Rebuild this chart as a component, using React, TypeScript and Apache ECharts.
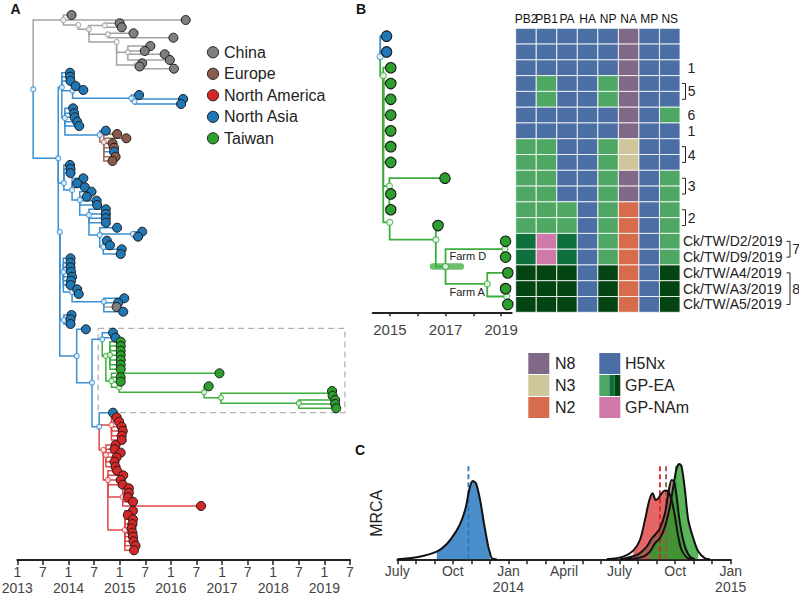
import React, { useEffect, useRef } from "react";
import * as echarts from "echarts";

const FONT = '"Liberation Sans", Arial, Helvetica, sans-serif';

// ---------- regions ----------
const regionNames = ["China", "Europe", "North America", "North Asia", "Taiwan"];
const regionFill = ["#7f7f7f", "#8c5a4b", "#d62728", "#1f77b4", "#2ca02c"];
const regionLine = ["#a3a3a3", "#a26c5c", "#e04848", "#3a8fd0", "#3cae3c"];

// ---------- Panel A tree: internal nodes [id, parent, date, tipOrder, region] ----------
const rootNodes = [["R", null, 2013.31, 89.3, 3]];
const chinaNodes = [
  ["G0", "R", 2013.9, 20, 0],
  ["G1", "G0", 2014.19, 25, 0],
  ["G2", "G1", 2014.4, 29.3, 0],
  ["G3", "G2", 2014.71, 25.5, 0],
  ["G4", "G2", 2014.77, 34.3, 0],
  ["G5", "G2", 2014.94, 42, 0],
  ["G6", "G5", 2015.16, 52.3, 0],
  ["G7", "G5", 2015.33, 65, 0],
];
const asiaUpperNodes = [
  ["B1", "R", 2013.8, 158.3, 3],
  ["BU", "B1", 2013.87, 87.3, 3],
  ["BU2", "BU", 2014.08, 90.7, 3],
  ["BL1", "BU2", 2015.23, 98.3, 3],
  ["BL2", "BL1", 2015.29, 101.5, 3],
  ["BU4", "BU", 2013.93, 118, 3],
  ["BE", "BU4", 2014.61, 135, 3],
  ["E1", "BE", 2014.69, 142, 1],
];
const asiaMidNodes = [
  ["BM1", "B1", 2013.91, 183, 3],
  ["BM2", "BM1", 2014.07, 190, 3],
  ["BM3", "BM2", 2014.22, 200, 3],
  ["BM4", "BM3", 2014.4, 215, 3],
  ["BM5", "BM4", 2014.61, 235, 3],
  ["BM6", "BM5", 2015.26, 234, 3],
  ["BM7", "BM5", 2014.68, 247, 3],
];
const asiaLowNodes = [
  ["B2", "B1", 2013.83, 232, 3],
  ["B4", "B2", 2013.9, 272, 3],
  ["B6", "B4", 2014.07, 292, 3],
  ["B7", "B6", 2014.69, 301.7, 3],
  ["B8", "B2", 2013.91, 320, 3],
  ["B9", "B2", 2014.16, 356, 3],
  ["B10", "B9", 2014.46, 382.7, 3],
  ["B11", "B10", 2014.66, 339.3, 3],
  ["RA", "B10", 2014.6, 426.7, 3],
];
const taiwanNodes = [
  ["TW0", "B11", 2014.73, 356, 4],
  ["TW1", "TW0", 2014.81, 355, 4],
  ["TW2", "TW0", 2014.84, 381, 4],
  ["TW3", "TW2", 2014.99, 387.3, 4],
  ["TW4", "TW3", 2016.65, 392.3, 4],
  ["TW5", "TW4", 2016.98, 397.7, 4],
  ["TW6", "TW5", 2019.12, 393.3, 4],
  ["TW7", "TW5", 2018.5, 403.3, 4],
];
const americaNodes = [
  ["RC", "RA", 2014.84, 425, 2],
  ["RB", "RA", 2014.68, 450, 2],
  ["RD", "RB", 2014.73, 455, 2],
  ["RE", "RB", 2014.77, 480, 2],
  ["RF", "RE", 2015.06, 497, 2],
  ["RG", "RE", 2015.1, 530, 2],
];

// ---------- Panel A tips [parent, date, tipOrder, region] ----------
const chinaTips = [
  ["G0", 2014.06, 15, 0], ["G0", 2016.29, 20, 0],
  ["G3", 2015.0, 23.3, 0], ["G3", 2015.04, 27.3, 0],
  ["G4", 2015.27, 33.3, 0], ["G4", 2016.05, 37.7, 0],
  ["G6", 2015.6, 46, 0], ["G6", 2015.49, 51, 0], ["G6", 2015.88, 54.3, 0], ["G6", 2015.98, 60, 0],
  ["G7", 2015.44, 63.3, 0], ["G7", 2015.39, 66.5, 0], ["G7", 2016.06, 68.7, 0],
];
const asiaUpperTips = [
  ["BU", 2014.03, 72.7, 3], ["BU", 2014.03, 76.7, 3], ["BU", 2014.04, 81, 3],
  ["BU2", 2014.14, 86, 3], ["BU2", 2014.29, 90, 3],
  ["BL1", 2015.38, 95, 3],
  ["BL2", 2016.24, 99, 3], ["BL2", 2016.2, 104, 3],
  ["BU4", 2014.09, 108.3, 3], ["BU4", 2014.11, 113.3, 3], ["BU4", 2014.12, 117.3, 3], ["BU4", 2014.17, 121.7, 3], ["BU4", 2014.21, 126, 3],
  ["BE", 2014.73, 130.7, 3],
  ["E1", 2014.95, 134, 1], ["E1", 2015.13, 138.3, 1], ["E1", 2014.86, 143.3, 1], ["E1", 2014.89, 147.7, 1],
  ["E1", 2014.89, 151.7, 3], ["E1", 2014.92, 156.7, 1], ["E1", 2014.86, 161, 1],
];
const asiaMidTips = [
  ["BM1", 2014.03, 165, 3], ["BM1", 2014.04, 169, 3], ["BM1", 2014.04, 173, 3],
  ["BM2", 2014.29, 178.3, 3], ["BM2", 2014.17, 183.3, 3], ["BM2", 2014.32, 187.3, 3],
  ["BM3", 2014.45, 191.7, 3], ["BM3", 2014.36, 196.7, 3], ["BM3", 2014.55, 200.7, 3], ["BM3", 2014.56, 205, 3],
  ["BM4", 2014.73, 209.3, 3], ["BM4", 2014.73, 214, 3], ["BM4", 2014.73, 218.3, 3], ["BM4", 2014.73, 222.7, 3],
  ["BM5", 2014.95, 227.7, 3],
  ["BM6", 2015.44, 231.7, 3], ["BM6", 2015.36, 236.7, 3],
  ["BM7", 2014.75, 240.7, 3], ["BM7", 2014.81, 245.3, 3], ["BM7", 2015.04, 249.3, 3], ["BM7", 2015.02, 254, 3],
];
const asiaLowTips = [
  ["B4", 2014.04, 258.3, 3], ["B4", 2014.04, 262.7, 3], ["B4", 2014.04, 267.3, 3], ["B4", 2014.05, 271.7, 3],
  ["B4", 2014.07, 276.7, 3], ["B4", 2014.05, 280.7, 3], ["B4", 2014.04, 285, 3],
  ["B6", 2014.17, 289.3, 3], ["B6", 2014.2, 294, 3],
  ["B7", 2015.09, 298.3, 3], ["B7", 2014.97, 302.7, 3], ["B7", 2014.94, 307, 0], ["B7", 2015.07, 311.7, 3],
  ["B8", 2014.06, 315, 3], ["B8", 2014.04, 319.3, 3], ["B8", 2014.04, 324, 3],
  ["B9", 2014.34, 329.3, 3],
  ["B11", 2014.87, 332.7, 3], ["B11", 2014.92, 337.7, 3],
  ["RA", 2014.87, 412.7, 3],
];
const taiwanTips = [
  ["TW1", 2015.02, 341.7, 4], ["TW1", 2015.02, 346, 4], ["TW1", 2015.02, 350.7, 4], ["TW1", 2015.02, 355.3, 4],
  ["TW1", 2015.02, 360, 4], ["TW1", 2015.02, 364.7, 4], ["TW1", 2015.02, 369.3, 4],
  ["TW2", 2016.95, 373.3, 4], ["TW2", 2015.02, 377.3, 4], ["TW2", 2015.02, 381.7, 4],
  ["TW4", 2016.74, 386.3, 4],
  ["TW6", 2019.15, 391, 4], ["TW6", 2019.16, 395.7, 4],
  ["TW7", 2019.21, 400, 4], ["TW7", 2019.21, 404, 4], ["TW7", 2019.23, 408.3, 4],
];
const americaTips = [
  ["RC", 2014.94, 417.3, 2], ["RC", 2014.99, 421.7, 2], ["RC", 2015.04, 426.7, 2], ["RC", 2015.06, 431, 2], ["RC", 2015.04, 435.7, 2], ["RC", 2015.04, 440, 2],
  ["RD", 2014.92, 445, 2], ["RD", 2014.9, 449.3, 2], ["RD", 2015.02, 452.7, 2], ["RD", 2014.94, 457.3, 2], ["RD", 2014.9, 461.7, 2], ["RD", 2014.92, 466.7, 2],
  ["RE", 2014.95, 470.7, 2], ["RE", 2015.07, 475.3, 2], ["RE", 2015.02, 480, 2], ["RE", 2015.06, 484.7, 2],
  ["RF", 2015.18, 488.3, 2], ["RF", 2015.18, 492.7, 2], ["RF", 2015.16, 497.3, 2], ["RF", 2015.26, 501.7, 2], ["RF", 2016.59, 506, 2],
  ["RG", 2015.26, 510.7, 2], ["RG", 2015.16, 515, 2], ["RG", 2015.26, 519.3, 2], ["RG", 2015.25, 524, 2], ["RG", 2015.23, 528.3, 2],
  ["RG", 2015.25, 532.7, 2], ["RG", 2015.26, 536.7, 2], ["RG", 2015.27, 541.3, 2], ["RG", 2015.31, 545.7, 2], ["RG", 2015.28, 550.3, 2],
];
// Taiwan highlight box [fromDate, toDate, topOrder, bottomOrder]
const taiwanBox = [2014.58, 2019.4, 328.3, 412.7];
const yearRangeA = [2013, 2019.5];

// ---------- Panel B tree (rows = heatmap rows) ----------
const treeBNodes = [
  ["P0", null, 2014.65, 2.3, 3],
  ["P1", "P0", 2014.76, 3.5, 4],
  ["P2", "P1", 2014.98, 10.5, 4],
  ["P3", "P1", 2014.99, 12.8, 4],
  ["P4", "P3", 2016.65, 13.9, 4],
  ["P5", "P4", 2017.0, 15.6, 4],
  ["P6", "P5", 2019.14, 14.5, 4],
  ["P7", "P5", 2018.5, 16.7, 4],
  ["P8", "P7", 2019.2, 17.5, 4],
];
const treeBTips = [
  ["P0", 2014.88, 1, 3], ["P0", 2014.88, 2, 3],
  ["P1", 2015.03, 3, 4], ["P1", 2015.03, 4, 4], ["P1", 2015.03, 5, 4], ["P1", 2015.03, 6, 4],
  ["P1", 2015.03, 7, 4], ["P1", 2015.03, 8, 4], ["P1", 2015.03, 9, 4],
  ["P2", 2016.98, 10, 4], ["P2", 2015.03, 11, 4], ["P2", 2015.03, 12, 4],
  ["P4", 2016.73, 13, 4],
  ["P6", 2019.16, 14, 4], ["P6", 2019.16, 15, 4],
  ["P7", 2019.24, 16, 4],
  ["P8", 2019.16, 17, 4], ["P8", 2019.24, 18, 4],
];
const farmHpd = [2016.55, 2017.55, 15.6];
const treeBRange = [2014.38, 2019.38];
const treeBTickYears = [2015, 2016, 2017, 2018, 2019];
const treeBLabelYears = [2015, 2017, 2019];

// ---------- Panel B heatmap ----------
const segments = ["PB2", "PB1", "PA", "HA", "NP", "NA", "MP", "NS"];
const lineageColors = {
  H: "#4b6ea5", G: "#4ea864", D: "#0e703c", K: "#044412", P: "#d078aa",
  N8: "#806987", N3: "#d0c69b", N2: "#d66c4c",
};
const heatRows = [
  ["H", "H", "H", "H", "H", "N8", "H", "H"],
  ["H", "H", "H", "H", "H", "N8", "H", "H"],
  ["H", "H", "H", "H", "H", "N8", "H", "H"],
  ["H", "G", "H", "H", "G", "N8", "H", "H"],
  ["H", "G", "H", "H", "G", "N8", "H", "H"],
  ["H", "H", "H", "H", "H", "N8", "H", "G"],
  ["H", "H", "H", "H", "H", "N8", "H", "H"],
  ["G", "G", "H", "H", "G", "N3", "H", "H"],
  ["G", "G", "H", "H", "G", "N3", "H", "H"],
  ["G", "G", "H", "H", "G", "N8", "H", "G"],
  ["G", "G", "H", "H", "G", "N8", "H", "G"],
  ["G", "G", "G", "H", "G", "N2", "H", "G"],
  ["G", "G", "G", "H", "G", "N2", "H", "G"],
  ["D", "P", "D", "H", "G", "N2", "H", "G"],
  ["D", "P", "D", "H", "G", "N2", "H", "G"],
  ["K", "K", "K", "H", "K", "N2", "H", "K"],
  ["K", "K", "K", "H", "K", "N2", "H", "K"],
  ["K", "K", "K", "H", "K", "N2", "H", "K"],
];
const singleRowLabels = [[3, "1"], [6, "6"], [7, "1"]];
const groupLabels = [[4, 5, "5"], [8, 9, "4"], [10, 11, "3"], [12, 13, "2"]];
const strainNames = [[14, "Ck/TW/D2/2019"], [15, "Ck/TW/D9/2019"], [16, "Ck/TW/A4/2019"], [17, "Ck/TW/A3/2019"], [18, "Ck/TW/A5/2019"]];
const strainGroups = [[14, 15, "7"], [16, 18, "8"]];

// ---------- Panel C densities (months since July 2013) ----------
const quarterLabels = ["July", "Oct", "Jan", "April", "July", "Oct", "Jan"];
const quarterYears = ["", "", "2014", "", "", "", "2015"];
const blueMonths = [0, 1.05, 2.13, 2.67, 3.2, 3.48, 3.71, 3.89, 4.07, 4.25, 4.47, 4.68, 4.91, 5.0, 5.1, 5.37];
const blueDensity = [0, 2, 7.7, 15.3, 28.7, 39.3, 52.7, 70, 78.3, 76, 59.3, 36, 12.7, 6.7, 1, 0];
const redMonths = [11.31, 12.2, 12.74, 13.1, 13.37, 13.61, 13.79, 13.95, 14.09, 14.27, 14.45, 14.63, 14.81, 14.99, 15.17, 15.35, 15.62, 15.9];
const redDensity = [0, 2.7, 8.7, 19.3, 39.3, 59.3, 66, 59.3, 61, 66, 68.7, 67.7, 59.3, 42.7, 22.7, 9.3, 2, 0];
const brownMonths = [12.02, 12.93, 13.47, 13.74, 13.91, 14.18, 14.45, 14.63, 14.81, 14.94, 15.08, 15.26, 15.53, 15.8, 16.07];
const brownDensity = [0, 4.3, 12.7, 21, 24.3, 31, 46, 66, 79.3, 77.7, 62.7, 36, 12.7, 2.7, 0];
const greenMonths = [12.38, 13.28, 13.64, 13.91, 14.18, 14.45, 14.72, 14.9, 15.08, 15.23, 15.35, 15.53, 15.71, 15.98, 16.25, 16.61, 16.88];
const greenDensity = [0, 2.7, 7.7, 16, 21, 32.7, 52.7, 72.7, 91, 95.3, 92.7, 69.3, 39.3, 21, 7.7, 1, 0];
const hpdBounds = [[2.13, 5.0], [12.74, 15.62], [12.93, 15.8], [13.64, 16.25]];
const meanMonths = [3.84, 14.18, 14.51, 15.05];
const meanLineTop = 96;

function buildTree(nodes: any[], tips: any[]) {
  const map: any = {};
  nodes.forEach((n) => (map[n[0]] = n));
  const edges: any[] = [];
  const nodePts: any[] = [];
  nodes.forEach((n) => {
    nodePts.push({ value: [n[2], n[3]], itemStyle: { color: "#fff", borderColor: regionLine[n[4]], borderWidth: 1.2 } });
    if (n[1]) {
      const p = map[n[1]];
      edges.push({ coords: [[p[2], p[3]], [p[2], n[3]], [n[2], n[3]]], lineStyle: { color: regionLine[n[4]] } });
    }
  });
  const tipPts: any[] = [];
  tips.forEach((t) => {
    const p = map[t[0]];
    edges.push({ coords: [[p[2], p[3]], [p[2], t[2]], [t[1], t[2]]], lineStyle: { color: regionLine[t[3]] } });
    tipPts.push({ value: [t[1], t[2]], itemStyle: { color: regionFill[t[3]] } });
  });
  return { edges, nodePts, tipPts };
}

function buildOption() {
  const treeA = buildTree(
    [...rootNodes, ...chinaNodes, ...asiaUpperNodes, ...asiaMidNodes, ...asiaLowNodes, ...taiwanNodes, ...americaNodes],
    [...chinaTips, ...asiaUpperTips, ...asiaMidTips, ...asiaLowTips, ...taiwanTips, ...americaTips]
  );
  const treeB = buildTree(treeBNodes, treeBTips);

  const paletteKeys = Object.keys(lineageColors);
  const heatData: any[] = [];
  heatRows.forEach((row, r) => row.forEach((code, c) => heatData.push([c, r, paletteKeys.indexOf(code)])));

  const series: any[] = [];
  // Panel A
  series.push({
    type: "lines", coordinateSystem: "cartesian2d", xAxisIndex: 0, yAxisIndex: 0, polyline: true, silent: true,
    lineStyle: { width: 1.5, opacity: 1 }, data: treeA.edges, z: 2,
  });
  const [bx0, bx1, by0, by1] = taiwanBox;
  series.push({
    type: "lines", coordinateSystem: "cartesian2d", xAxisIndex: 0, yAxisIndex: 0, polyline: true, silent: true,
    lineStyle: { width: 1.3, color: "#b3b3b3", type: [6, 4], opacity: 1 },
    data: [{ coords: [[bx0, by0], [bx1, by0], [bx1, by1], [bx0, by1], [bx0, by0]] }], z: 1,
  });
  series.push({ type: "scatter", xAxisIndex: 0, yAxisIndex: 0, symbolSize: 5, data: treeA.nodePts, z: 3, silent: true });
  series.push({
    type: "scatter", xAxisIndex: 0, yAxisIndex: 0, symbolSize: 9, data: treeA.tipPts, z: 4, silent: true,
    itemStyle: { borderColor: "#1a1a1a", borderWidth: 1, opacity: 1 },
  });
  // Panel B tree
  series.push({
    type: "lines", coordinateSystem: "cartesian2d", xAxisIndex: 2, yAxisIndex: 1, polyline: false, silent: true,
    lineStyle: { width: 6.5, color: "#5cb85c", opacity: 0.9, cap: "round" },
    data: [{ coords: [[farmHpd[0], farmHpd[2]], [farmHpd[1], farmHpd[2]]] }], z: 1,
  });
  series.push({
    type: "lines", coordinateSystem: "cartesian2d", xAxisIndex: 2, yAxisIndex: 1, polyline: true, silent: true,
    lineStyle: { width: 1.8, opacity: 1 }, data: treeB.edges, z: 2,
  });
  series.push({ type: "scatter", xAxisIndex: 2, yAxisIndex: 1, symbolSize: 6, data: treeB.nodePts, z: 3, silent: true });
  series.push({
    type: "scatter", xAxisIndex: 2, yAxisIndex: 1, symbolSize: 10.5, data: treeB.tipPts, z: 4, silent: true,
    itemStyle: { borderColor: "#1a1a1a", borderWidth: 1.1, opacity: 1 },
  });
  // Heatmap
  series.push({
    type: "custom", xAxisIndex: 3, yAxisIndex: 2, data: heatData, encode: { x: 0, y: 1 }, silent: true,
    renderItem: (params: any, api: any) => {
      const c = api.coord([api.value(0), api.value(1)]);
      const s = api.size([1, 1]);
      const key = paletteKeys[api.value(2)];
      return {
        type: "rect",
        shape: { x: c[0] - s[0] / 2, y: c[1] - s[1] / 2, width: s[0], height: s[1] },
        style: { fill: (lineageColors as any)[key], stroke: "#ffffff", lineWidth: 0.8 },
      };
    },
  });
  // Panel C
  const curves = [
    { m: blueMonths, d: blueDensity, fill: "#4a8fcc", op: 1, dash: "#2a78be" },
    { m: redMonths, d: redDensity, fill: "#dd3b3b", op: 0.78, dash: "#e01f1f" },
    { m: brownMonths, d: brownDensity, fill: "#8c5a4b", op: 0.72, dash: "#8c5a4b" },
    { m: greenMonths, d: greenDensity, fill: "#2ca02c", op: 0.78, dash: "#2ca02c" },
  ];
  curves.forEach((cv, i) => {
    const pts = cv.m.map((x, k) => [x, cv.d[k]]);
    const [lo, hi] = hpdBounds[i];
    series.push({
      type: "line", xAxisIndex: 4, yAxisIndex: 3, smooth: 0.3, symbol: "none", silent: true,
      data: pts.filter((p) => p[0] >= lo && p[0] <= hi),
      lineStyle: { width: 0 }, areaStyle: { color: cv.fill, opacity: cv.op, origin: "start" }, z: 1 + i * 0.01,
    });
  });
  curves.forEach((cv, i) => {
    series.push({
      type: "line", xAxisIndex: 4, yAxisIndex: 3, symbol: "none", silent: true,
      data: [[meanMonths[i], 0], [meanMonths[i], meanLineTop]],
      lineStyle: { color: cv.dash, width: 1.8, type: [5, 3] }, z: 2,
    });
  });
  curves.forEach((cv) => {
    series.push({
      type: "line", xAxisIndex: 4, yAxisIndex: 3, smooth: 0.3, symbol: "none", silent: true,
      data: cv.m.map((x, k) => [x, cv.d[k]]),
      lineStyle: { color: "#111", width: 2 }, z: 3,
    });
  });

  const axisLabelBase = { fontFamily: FONT, fontSize: 14, color: "#444", lineHeight: 14 };
  const axisLineBase = { show: true, onZero: false, lineStyle: { color: "#222", width: 2 } };
  const tickBase = { show: true, length: 5, lineStyle: { color: "#222", width: 1.5 } };
  const hiddenLine = { show: false };

  // graphics
  const rowY = (r: number) => 28.3 + (r - 0.5) * 15.78;
  const g: any[] = [];
  const txt = (x: number, y: number, text: string, size: number, extra: any = {}) => ({
    type: "text", x, y, silent: true,
    style: { text, fontSize: size, fontFamily: FONT, fill: "#222", align: "left", verticalAlign: "middle",
      textAlign: "left", textVerticalAlign: "middle", ...extra },
  });
  g.push(txt(15.5, 8.5, "A", 14, { fontWeight: "bold", align: "center", textAlign: "center", fill: "#111" }));
  g.push(txt(361, 8.5, "B", 14, { fontWeight: "bold", align: "center", textAlign: "center", fill: "#111" }));
  g.push(txt(360, 449.5, "C", 14, { fontWeight: "bold", align: "center", textAlign: "center", fill: "#111" }));
  regionNames.forEach((name, i) => {
    const cy = 52.3 + 21.5 * i;
    g.push({ type: "circle", silent: true, shape: { cx: 213, cy, r: 5.6 }, style: { fill: regionFill[i], stroke: "#222", lineWidth: 1 } });
    g.push(txt(224, cy, name, 16));
  });
  singleRowLabels.forEach(([r, t]: any) => g.push(txt(687.5, rowY(r), t, 14)));
  const bracket = (x: number, y1: number, y2: number) => ({
    type: "polyline", silent: true,
    shape: { points: [[x - 3.5, y1], [x, y1], [x, y2], [x - 3.5, y2]] },
    style: { stroke: "#222", lineWidth: 1, fill: null },
  });
  groupLabels.forEach(([a, b, t]: any) => {
    g.push(bracket(685.5, rowY(a), rowY(b)));
    g.push(txt(687.8, (rowY(a) + rowY(b)) / 2, t, 14));
  });
  strainNames.forEach(([r, t]: any) => g.push(txt(683, rowY(r), t, 14)));
  strainGroups.forEach(([a, b, t]: any) => {
    g.push(bracket(790, rowY(a), rowY(b)));
    g.push(txt(792.3, (rowY(a) + rowY(b)) / 2, t, 14));
  });
  g.push(txt(449.5, 255.5, "Farm D", 11));
  g.push(txt(449.5, 292, "Farm A", 11));
  // legend for segments
  const legendRows = [
    [["N8"], "N8", ["H"], "H5Nx"],
    [["N3"], "N3", ["G", "D", "K"], "GP-EA"],
    [["N2"], "N2", ["P"], "GP-NAm"],
  ];
  legendRows.forEach((row: any, i) => {
    const y = 353 + 22 * i;
    g.push({ type: "rect", silent: true, shape: { x: 528.3, y, width: 21, height: 21 }, style: { fill: (lineageColors as any)[row[0][0]] } });
    g.push(txt(555, y + 10.5, row[1], 16));
    const keys = row[2];
    if (keys.length === 1) {
      g.push({ type: "rect", silent: true, shape: { x: 599.3, y, width: 21, height: 21 }, style: { fill: (lineageColors as any)[keys[0]] } });
    } else {
      const widths = [10, 5.5, 5.5];
      let x = 599.3;
      keys.forEach((k: string, j: number) => {
        g.push({ type: "rect", silent: true, shape: { x, y, width: widths[j], height: 21 }, style: { fill: (lineageColors as any)[k] } });
        x += widths[j];
      });
    }
    g.push(txt(625, y + 10.5, row[3], 16));
  });
  g.push({
    type: "text", x: 376.7, y: 513.3, rotation: Math.PI / 2, silent: true,
    style: { text: "MRCA", fontSize: 16, fontFamily: FONT, fill: "#222", align: "center", verticalAlign: "middle", textAlign: "center", textVerticalAlign: "middle" },
  });

  return {
    animation: false,
    backgroundColor: "#ffffff",
    textStyle: { fontFamily: FONT },
    grid: [
      { left: 17.3, top: 0, width: 332.7, height: 560, containLabel: false, outerBoundsMode: "none" },
      { left: 372.7, top: 28.3, width: 139, height: 284, containLabel: false, outerBoundsMode: "none" },
      { left: 515.7, top: 28.3, width: 164.3, height: 284, containLabel: false, outerBoundsMode: "none" },
      { left: 397.3, top: 459.3, width: 333.4, height: 100, containLabel: false, outerBoundsMode: "none" },
    ],
    xAxis: [
      // 0: panel A month row
      {
        gridIndex: 0, type: "value", min: yearRangeA[0], max: yearRangeA[1], interval: 0.5,
        axisLine: axisLineBase, axisTick: tickBase, splitLine: { show: false },
        axisLabel: { ...axisLabelBase, margin: 5, formatter: (v: number) => (Number.isInteger(v) ? "1" : "7") },
      },
      // 1: panel A year row
      {
        gridIndex: 0, type: "value", position: "bottom", offset: 0, min: yearRangeA[0], max: yearRangeA[1], interval: 0.5,
        axisLine: hiddenLine, axisTick: hiddenLine, splitLine: { show: false },
        axisLabel: { ...axisLabelBase, margin: 21, formatter: (v: number) => (Number.isInteger(v) ? String(v) : "") },
      },
      // 2: panel B tree
      {
        gridIndex: 1, type: "value", min: treeBRange[0], max: treeBRange[1],
        axisLine: axisLineBase, axisTick: { ...tickBase, length: 4, customValues: treeBTickYears }, splitLine: { show: false },
        axisLabel: { ...axisLabelBase, fontSize: 15, margin: 10, customValues: treeBLabelYears, formatter: (v: number) => String(Math.round(v)) },
      },
      // 3: heatmap segments
      {
        gridIndex: 2, type: "category", data: segments, position: "top",
        axisLine: { show: false }, axisTick: { show: false }, splitLine: { show: false },
        axisLabel: { fontFamily: FONT, fontSize: 12, color: "#111", margin: 3, interval: 0 },
      },
      // 4: panel C months
      {
        gridIndex: 3, type: "value", min: 0, max: 18, interval: 1,
        axisLine: axisLineBase, axisTick: tickBase, splitLine: { show: false },
        axisLabel: { ...axisLabelBase, margin: 5, formatter: (v: number) => (v % 3 === 0 ? quarterLabels[v / 3] : "") },
      },
      // 5: panel C years
      {
        gridIndex: 3, type: "value", position: "bottom", offset: 0, min: 0, max: 18, interval: 1,
        axisLine: hiddenLine, axisTick: hiddenLine, splitLine: { show: false },
        axisLabel: { ...axisLabelBase, margin: 21, formatter: (v: number) => (v % 3 === 0 ? quarterYears[v / 3] : "") },
      },
    ],
    yAxis: [
      { gridIndex: 0, type: "value", min: 0, max: 560, inverse: true, show: false, splitLine: { show: false } },
      { gridIndex: 1, type: "value", min: 0.5, max: 18.5, inverse: true, show: false, splitLine: { show: false } },
      { gridIndex: 2, type: "category", data: heatRows.map((_, i) => String(i + 1)), inverse: true, show: false },
      { gridIndex: 3, type: "value", min: 0, max: 100, show: false, splitLine: { show: false } },
    ],
    series,
    graphic: { elements: g },
  };
}

export default function App() {
  const ref = useRef<HTMLDivElement>(null);
  useEffect(() => {
    const chart = echarts.init(ref.current as HTMLDivElement, null, { renderer: "svg" });
    chart.setOption(buildOption() as any);
    return () => chart.dispose();
  }, []);
  return (
    <div
      ref={ref}
      style={{ position: "fixed", left: 0, top: 0, width: 799, height: 596, background: "#fff" }}
    />
  );
}
